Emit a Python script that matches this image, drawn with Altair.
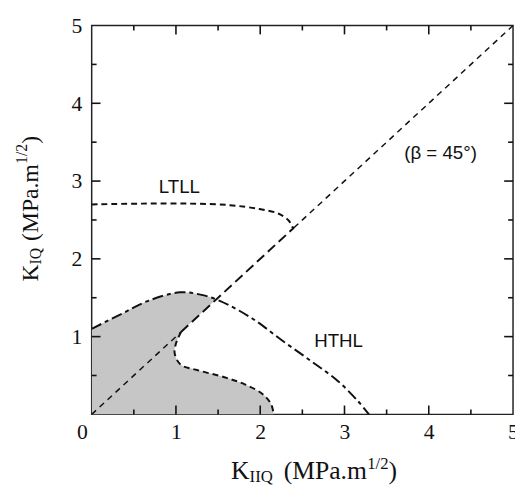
import altair as alt
import pandas as pd

# ---- data ----
hthl_x = [0.0, 0.35, 0.67, 1.05, 1.29, 1.52, 1.91, 2.26, 2.61, 2.92, 3.16, 3.29]
hthl_y = [1.10, 1.29, 1.46, 1.57, 1.54, 1.46, 1.23, 0.95, 0.68, 0.43, 0.17, 0.0]

ltll_x = [0.0, 0.6, 1.17, 1.64, 1.99, 2.22, 2.34, 2.38, 2.40]
ltll_y = [2.70, 2.71, 2.71, 2.69, 2.64, 2.58, 2.49, 2.41, 2.40]

nose_x = [1.06, 1.00, 0.985, 1.055, 1.25, 1.60, 1.83, 2.03, 2.13, 2.16]
nose_y = [1.06, 0.91, 0.785, 0.64, 0.57, 0.47, 0.38, 0.26, 0.13, 0.0]

diag_lower = [0.0, 1.06]
diag_mid = [1.06, 2.40]
diag_upper = [2.40, 5.0]
cross = 1.48  # HTHL meets the 45 degree line

major_ticks = [1, 2, 3, 4]
minor_ticks = [0.5, 1.5, 2.5, 3.5, 4.5]
x_labels = [0, 1, 2, 3, 4, 5]
y_labels = [1, 2, 3, 4, 5]

W, H = 428, 395
SERIF = "Liberation Serif"
SANS = "Liberation Sans"
INK = "#111111"

xs = alt.Scale(domain=[0, 5], nice=False)
ys = alt.Scale(domain=[0, 5], nice=False)
xax = alt.Axis(values=x_labels, format="d", ticks=False, domain=False, grid=False,
               labelFont=SERIF, labelFontSize=22, labelColor=INK, labelPadding=7,
               labelFlush=False, labelOverlap=False, title=None,
               labelOffset={"condition": {"test": "datum.value == 0", "value": -10}, "value": 0})
yax = alt.Axis(values=y_labels, format="d", ticks=False, domain=False, grid=False,
               labelFont=SERIF, labelFontSize=22, labelColor=INK, labelPadding=10,
               labelFlush=False, labelOverlap=False, title=None)


def X(f):
    return alt.X(f, type="quantitative", scale=xs, axis=xax)


def Y(f):
    return alt.Y(f, type="quantitative", scale=ys, axis=yax)


def path_df(xv, yv):
    return pd.DataFrame({"x": xv, "y": yv, "i": list(range(len(xv)))})


# shaded region polygon built from the boundary curves
poly_x = [0.0, 0.0, 0.0, 0.0] + hthl_x[1:5] + [cross, cross] + [nose_x[0]] + nose_x + [nose_x[-1], 0.0]
poly_y = [0.0, 0.0, hthl_y[0], hthl_y[0]] + hthl_y[1:5] + [cross, cross] + [nose_y[0]] + nose_y + [nose_y[-1], 0.0]

shade = alt.Chart(path_df(poly_x, poly_y)).mark_line(
    fill="#c6c6c6", strokeWidth=0, interpolate="catmull-rom", clip=True
).encode(x=X("x"), y=Y("y"), order="i:Q")


def curve(xv, yv, dash, width=2.0):
    return alt.Chart(path_df(xv, yv)).mark_line(
        color=INK, strokeWidth=width, strokeDash=dash, interpolate="catmull-rom", clip=True
    ).encode(x=X("x"), y=Y("y"), order="i:Q")


hthl = curve(hthl_x, hthl_y, [11, 4, 4, 4], 2.0)
ltll = curve(ltll_x, ltll_y, [6, 4], 2.0)
nose = curve(nose_x, nose_y, [6, 4], 2.0)
d1 = curve(diag_lower, diag_lower, [6, 5], 1.5)
d2 = curve(diag_mid, diag_mid, [10, 5], 2.0)
d3 = curve(diag_upper, diag_upper, [6, 5], 1.5)

# inward ticks on all four sides
rows = []
for vals, px in [(major_ticks, 9), (minor_ticks, 5)]:
    lx, ly = px * 5 / W, px * 5 / H
    for v in vals:
        rows += [
            {"x": v, "x2": v, "y": 0.0, "y2": ly},
            {"x": v, "x2": v, "y": 5.0, "y2": 5 - ly},
            {"x": 0.0, "x2": lx, "y": v, "y2": v},
            {"x": 5.0, "x2": 5 - lx, "y": v, "y2": v},
        ]
tick_df = pd.DataFrame(rows).astype(float)
ticks = alt.Chart(tick_df).mark_rule(color=INK, strokeWidth=1.6).encode(
    x=X("x"), x2=alt.X2("x2"), y=Y("y"), y2=alt.Y2("y2")
)

# annotations in data space
ann = pd.DataFrame({
    "x": [1.04, 2.93, 4.14],
    "y": [2.92, 0.94, 3.36],
    "t": ["LTLL", "HTHL", "(β = 45°)"],
})
labels = alt.Chart(ann).mark_text(font=SANS, fontSize=19, color=INK).encode(
    x=X("x"), y=Y("y"), text="t:N"
)


def piece(txt, px, py, size, angle=0):
    return alt.Chart(pd.DataFrame({"t": [txt]})).mark_text(
        font=SERIF, fontSize=size, color=INK, align="left", baseline="alphabetic", angle=angle
    ).encode(x=alt.value(px), y=alt.value(py), text="t:N")


# x axis title: K_IIQ (MPa.m^1/2)
xt = [
    piece("K", 141.6, 461, 26),
    piece("IIQ", 160.4, 464, 17),
    piece("(MPa.m", 195, 461, 26),
    piece("1/2", 279.8, 450, 17),
    piece(")", 301.6, 461, 26),
]
# y axis title: K_IQ (MPa.m^1/2), rotated
yt = [
    piece("K", -55, 260, 24, 270),
    piece("IQ", -51, 242.7, 16, 270),
    piece("(MPa.m", -55, 218.8, 24, 270),
    piece("1/2", -66, 140.6, 16, 270),
    piece(")", -55, 120.1, 24, 270),
]

chart = alt.layer(shade, d1, d2, d3, hthl, ltll, nose, labels, *xt, *yt, ticks).properties(
    width=W, height=H,
    padding={"left": 85, "top": 14, "right": 2, "bottom": 72},
    autosize=alt.AutoSizeParams(type="none"),
).configure_view(stroke="#222222", strokeWidth=1.5)

chart.save("out.html", embed_options={"renderer": "svg", "actions": False})
